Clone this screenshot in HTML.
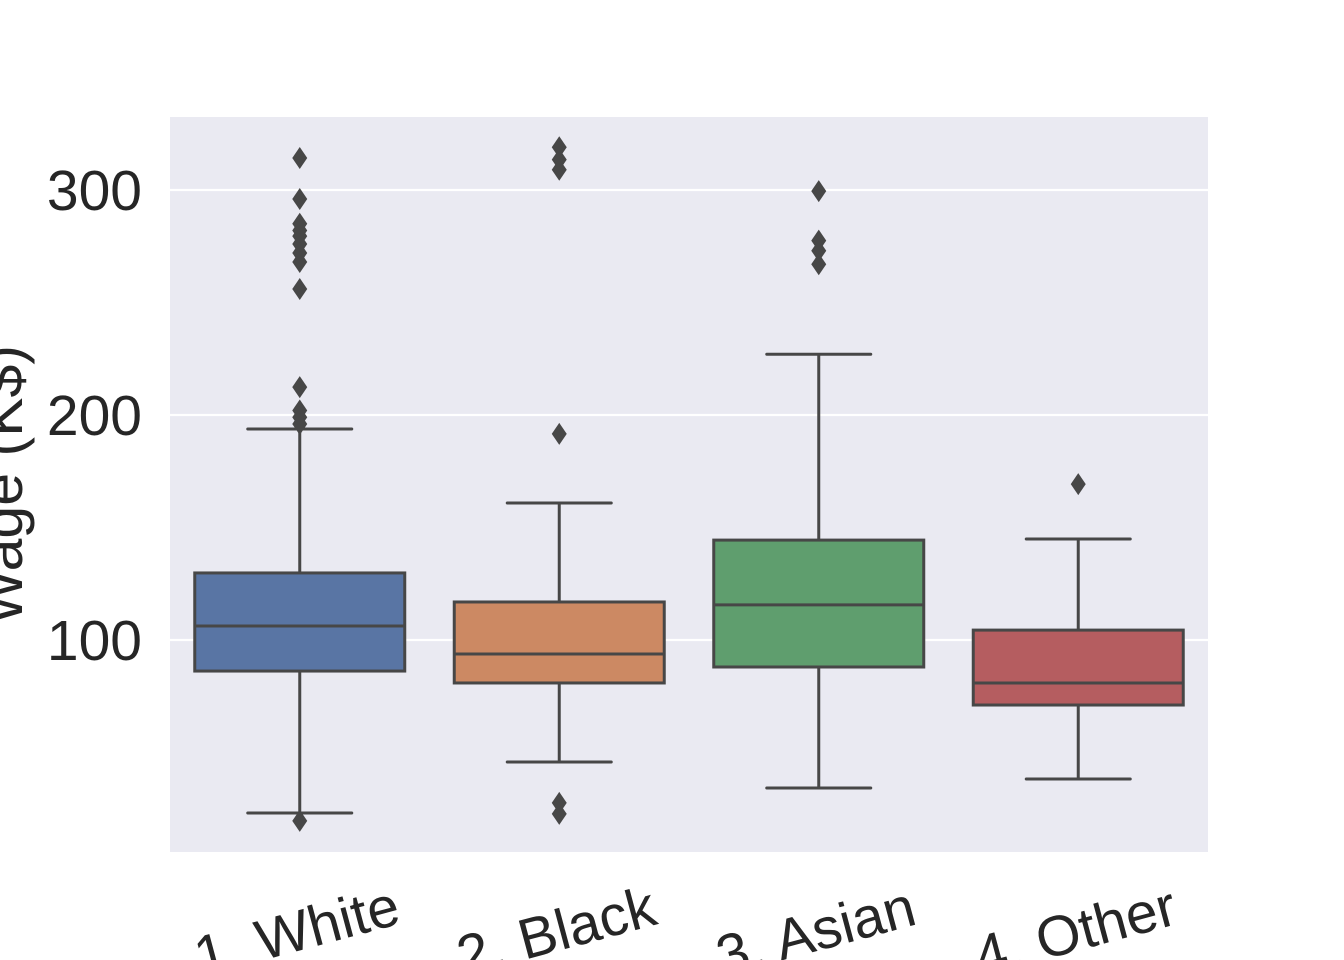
<!DOCTYPE html>
<html><head><meta charset="utf-8"><style>
html,body{margin:0;padding:0;background:#fff;}
svg{display:block;font-family:"Liberation Sans","DejaVu Sans",sans-serif;}
</style></head><body>
<svg id="chart" width="1344" height="960" viewBox="0 0 1344 960">
<rect x="170" y="117" width="1038" height="735" fill="#eaeaf2"/>
<g id="grid"></g>
<g id="boxes"></g>
<g id="labels"></g>
<text transform="translate(22,485) rotate(-90)" text-anchor="middle" font-size="59" fill="#262626">Wage (K$)</text>
</svg>
<script>
const categories = ["1. White","2. Black","3. Asian","4. Other"];
const q1Values = [86.2, 80.9, 88, 71.1];
const medianValues = [106.2, 93.8, 115.6, 80.9];
const q3Values = [129.8, 116.9, 144.4, 104.4];
const whiskerLow = [23.1, 45.8, 34.2, 38.2];
const whiskerHigh = [193.8, 160.9, 227, 144.9];
const outliers = [
  [314.2, 296, 285, 282, 279.5, 276, 272, 268, 256, 212.4, 202, 199, 196, 19.6],
  [319, 313.5, 309, 191.6, 27.6, 22.7],
  [299.5, 277.5, 273, 267],
  [169.3]
];
const yTicks = [100, 200, 300];
const colors = ["#5975a4","#cc8963","#5f9e6e","#b55d60"];

const NS = "http://www.w3.org/2000/svg";
const yScale = v => 640 - (v - 100) * 2.25;
const xScale = i => 170 + 1038 * (i + 0.5) / categories.length;
function mk(tag, attrs, parent){const e=document.createElementNS(NS,tag);for(const k in attrs)e.setAttribute(k,attrs[k]);parent.appendChild(e);return e;}
const grid=document.getElementById('grid'), boxes=document.getElementById('boxes'), labels=document.getElementById('labels');
const lc="#474747";
yTicks.forEach(t=>{
  const y=yScale(t);
  const l=mk('line',{x1:170,x2:1208,y1:y,y2:y,stroke:'#fff','stroke-width':2.2},grid);
  
  
  const tx=mk('text',{x:142,y:y+20,'text-anchor':'end','font-size':57,fill:'#262626'},labels);
  tx.textContent=t;
  
  
});
const bw=210, cw=104;
categories.forEach((c,i)=>{
  const cx=xScale(i);
  const g=mk('g',{},boxes);
  
  
  const yl=yScale(whiskerLow[i]), yh=yScale(whiskerHigh[i]), y1=yScale(q1Values[i]), y3=yScale(q3Values[i]), ym=yScale(medianValues[i]);
  mk('line',{x1:cx,x2:cx,y1:yh,y2:y3,stroke:lc,'stroke-width':3},g);
  mk('line',{x1:cx,x2:cx,y1:y1,y2:yl,stroke:lc,'stroke-width':3},g);
  mk('line',{x1:cx-cw/2,x2:cx+cw/2,y1:yh,y2:yh,stroke:lc,'stroke-width':3,'stroke-linecap':'round'},g);
  mk('line',{x1:cx-cw/2,x2:cx+cw/2,y1:yl,y2:yl,stroke:lc,'stroke-width':3,'stroke-linecap':'round'},g);
  mk('rect',{x:cx-bw/2,y:y3,width:bw,height:y1-y3,fill:colors[i],stroke:lc,'stroke-width':3},g);
  mk('line',{x1:cx-bw/2,x2:cx+bw/2,y1:ym,y2:ym,stroke:lc,'stroke-width':3},g);
  outliers[i].forEach(v=>{
    const y=yScale(v);
    const d=mk('polygon',{points:`${cx},${y-11} ${cx+7.5},${y} ${cx},${y+11} ${cx-7.5},${y}`,fill:lc},g);
    
    
  });
  const tx=mk('text',{transform:`translate(${cx+2},${950}) rotate(-15)`,'text-anchor':'middle','font-size':57,fill:'#262626'},labels);
  tx.textContent=c;
  
  
});
</script>
</body></html>
